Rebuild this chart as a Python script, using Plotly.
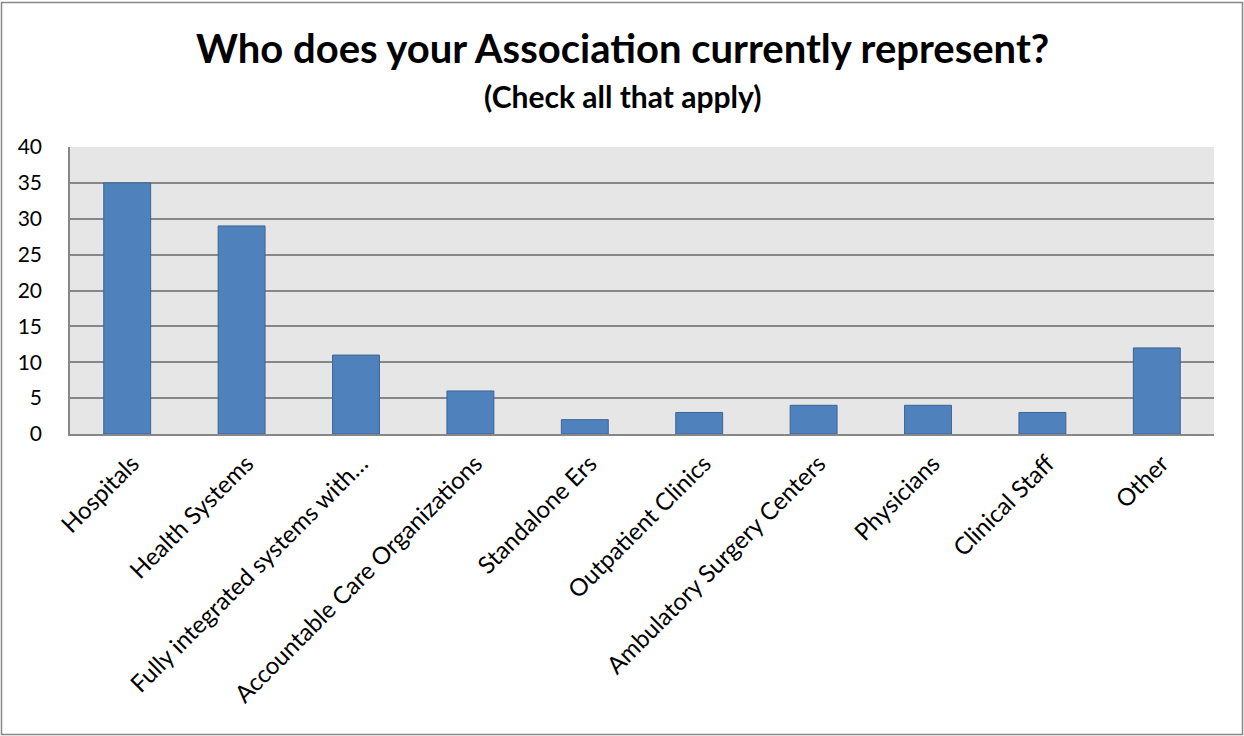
import plotly.graph_objects as go

categories = [
    "Hospitals",
    "Health Systems",
    "Fully integrated systems with…",
    "Accountable Care Organizations",
    "Standalone Ers",
    "Outpatient Clinics",
    "Ambulatory Surgery Centers",
    "Physicians",
    "Clinical Staff",
    "Other",
]
counts = [35, 29, 11, 6, 2, 3, 4, 4, 3, 12]
y_ticks = [0, 5, 10, 15, 20, 25, 30, 35, 40]

FONT = "Lato"
W, H = 1244, 736
M_L, M_R, M_T, M_B = 70, 30, 147, 302
plot_w = W - M_L - M_R
plot_h = H - M_T - M_B

fig = go.Figure(
    go.Bar(
        x=categories,
        y=counts,
        marker=dict(color="#4F81BD", line=dict(color="#3A6595", width=1)),
        width=0.41,
    )
)

fig.update_layout(
    width=W,
    height=H,
    margin=dict(l=M_L, r=M_R, t=M_T, b=M_B),
    paper_bgcolor="white",
    plot_bgcolor="#E6E6E6",
    showlegend=False,
    font=dict(family=FONT, color="black"),
)

fig.update_yaxes(
    range=[0, 40],
    tickvals=y_ticks,
    tickfont=dict(size=21, family=FONT),
    showgrid=True,
    gridcolor="#878787",
    gridwidth=1.5,
    showline=True,
    linecolor="#878787",
    linewidth=1.5,
    zeroline=False,
    ticks="",
    ticklabelstandoff=22,
)
fig.update_xaxes(
    tickangle=-45,
    tickfont=dict(size=24, family=FONT),
    showline=True,
    linecolor="#878787",
    linewidth=2,
    ticks="",
    ticklabelstandoff=4,
    ticklabelshift=5,
    range=[-0.5, len(categories) - 0.5],
)

center_x = (622 - M_L) / plot_w
fig.add_annotation(
    text="<b>Who does your Association currently represent?</b>",
    xref="paper", yref="paper",
    x=center_x,
    y=1 + (147 - 48) / plot_h,
    xanchor="center", yanchor="middle",
    showarrow=False,
    font=dict(size=40, family=FONT, color="black"),
)
fig.add_annotation(
    text="<b>(Check all that apply)</b>",
    xref="paper", yref="paper",
    x=center_x,
    y=1 + (147 - 96) / plot_h,
    xanchor="center", yanchor="middle",
    showarrow=False,
    font=dict(size=30, family=FONT, color="black"),
)

# outer frame around the whole chart
fig.add_shape(
    type="rect",
    xref="paper", yref="paper",
    x0=(1.5 - M_L) / plot_w, x1=(1242.5 - M_L) / plot_w,
    y0=-(734.5 - M_T - plot_h) / plot_h, y1=1 + (147 - 2.5) / plot_h,
    line=dict(color="#878787", width=1.5),
    fillcolor="rgba(0,0,0,0)",
    layer="below",
)

fig.write_html("out.html")
